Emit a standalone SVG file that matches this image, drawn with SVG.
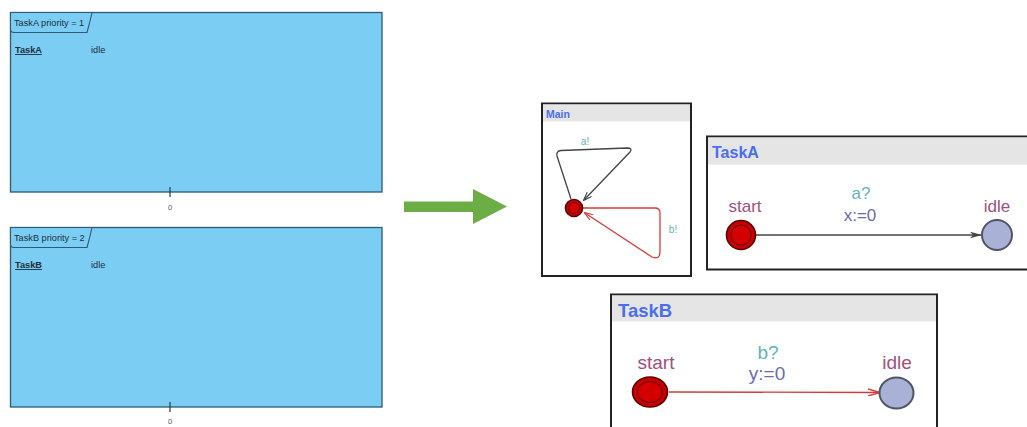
<svg xmlns="http://www.w3.org/2000/svg" width="1027" height="427" viewBox="0 0 1027 427">
  <style>
    .lane { fill: #7bcdf3; stroke: #2c5a78; stroke-width: 1.3; }
    .tab { fill: #7bcdf3; stroke: #2c5a78; stroke-width: 1.1; }
    .small { font-family: "Liberation Sans", Arial, sans-serif; font-size: 9.2px; fill: #1d2f3c; }
    .tick { stroke: #2c3a44; stroke-width: 1.2; }
    .tickval { font-family: "Liberation Sans", Arial, sans-serif; font-size: 7.5px; fill: #555555; }
    .frame { fill: #ffffff; stroke: #222; stroke-width: 2; }
    .head { fill: #e5e5e5; }
    .title { font-family: "Liberation Sans", Arial, sans-serif; font-weight: bold; fill: #4b6ef0; }
    .loc { font-family: "Liberation Sans", Arial, sans-serif; fill: #a0507c; }
    .sync { font-family: "Liberation Sans", Arial, sans-serif; fill: #5fb4b8; }
    .upd { font-family: "Liberation Sans", Arial, sans-serif; fill: #6a6aae; }
    .init-o { fill: #c80000; stroke: #5a0000; stroke-width: 1.6; }
    .init-i { fill: #d40000; stroke: #6a0000; stroke-width: 1.1; }
    .plain { fill: #a9b2d6; stroke: #4f5566; stroke-width: 2; }
    .edge-k { fill: none; stroke: #444; stroke-width: 1.3; }
    .edge-r { fill: none; stroke: #d83a3a; stroke-width: 1.3; }
  </style>
  <defs>
    <marker id="ak" viewBox="0 0 12 8" refX="11" refY="4" markerWidth="12" markerHeight="8" markerUnits="userSpaceOnUse" orient="auto">
      <path d="M0,0.8 L12,4 L0,7.2 L3,4 Z" fill="#444"/>
    </marker>
    <marker id="ar" viewBox="0 0 12 8" refX="11" refY="4" markerWidth="12" markerHeight="8" markerUnits="userSpaceOnUse" orient="auto">
      <path d="M0,0.5 L12,4 L0,7.5" fill="none" stroke="#d83a3a" stroke-width="1.4"/>
    </marker>
    <marker id="aks" viewBox="0 0 10 8" refX="9" refY="4" markerWidth="9" markerHeight="7" markerUnits="userSpaceOnUse" orient="auto">
      <path d="M0,0.5 L10,4 L0,7.5" fill="none" stroke="#444" stroke-width="1.3"/>
    </marker>
    <marker id="ars" viewBox="0 0 10 8" refX="9" refY="4" markerWidth="9" markerHeight="7" markerUnits="userSpaceOnUse" orient="auto">
      <path d="M0,0.5 L10,4 L0,7.5" fill="none" stroke="#d83a3a" stroke-width="1.3"/>
    </marker>
  </defs>

  <!-- Timing lanes -->
  <g id="laneA">
    <rect class="lane" x="10.5" y="12.5" width="371.5" height="179.5"/>
    <path class="tab" d="M10.5,12.5 L92,12.5 Q90,22 87,32.5 L14,32.5 Q10.5,32.5 10.5,29 Z"/>
    <text class="small" x="14" y="26">TaskA priority = 1</text>
    <text class="small" x="15" y="53" font-weight="bold" text-decoration="underline">TaskA</text>
    <text class="small" x="91" y="53">idle</text>
    <line class="tick" x1="170" y1="187" x2="170" y2="197"/>
    <text class="tickval" x="170" y="210" text-anchor="middle">0</text>
  </g>
  <g id="laneB">
    <rect class="lane" x="10.5" y="227.5" width="371.5" height="179.5"/>
    <path class="tab" d="M10.5,227.5 L92,227.5 Q90,237 87,247.5 L14,247.5 Q10.5,247.5 10.5,244 Z"/>
    <text class="small" x="14" y="241">TaskB priority = 2</text>
    <text class="small" x="15" y="268" font-weight="bold" text-decoration="underline">TaskB</text>
    <text class="small" x="91" y="268">idle</text>
    <line class="tick" x1="170" y1="402" x2="170" y2="412"/>
    <text class="tickval" x="170" y="424" text-anchor="middle">0</text>
  </g>

  <!-- Transformation arrow -->
  <g id="transform">
    <path d="M404,201.5 L473,201.5 L473,189 L507,206.5 L473,224 L473,212 L404,212 Z" fill="#6cae45"/>
  </g>

  <!-- Main automaton -->
  <g id="main">
    <rect class="frame" x="542" y="103.5" width="149" height="172.5"/>
    <rect class="head" x="543" y="104.5" width="147" height="17"/>
    <text class="title" x="546" y="118" font-size="10.5px">Main</text>
    <text class="sync" x="585" y="145" font-size="10px" text-anchor="middle">a!</text>
    <text class="sync" x="673" y="233" font-size="10px" text-anchor="middle">b!</text>
  </g>

  <!-- TaskA automaton -->
  <g id="taskA">
    <rect class="frame" x="707" y="136.5" width="330" height="133"/>
    <rect class="head" x="708" y="137.5" width="320" height="27"/>
    <text class="title" x="712" y="158" font-size="16px">TaskA</text>
    <text class="loc" x="745" y="212" font-size="17px" text-anchor="middle">start</text>
    <text class="loc" x="997" y="212" font-size="17px" text-anchor="middle">idle</text>
    <text class="sync" x="861" y="199" font-size="17px" text-anchor="middle">a?</text>
    <text class="upd" x="860" y="221" font-size="17px" text-anchor="middle">x:=0</text>
  </g>

  <!-- TaskB automaton -->
  <g id="taskB">
    <rect class="frame" x="611" y="294.5" width="326" height="140"/>
    <rect class="head" x="612" y="295.5" width="324" height="26"/>
    <text class="title" x="618" y="317" font-size="18.5px">TaskB</text>
    <text class="loc" x="656" y="369" font-size="19px" text-anchor="middle">start</text>
    <text class="loc" x="897" y="369" font-size="19px" text-anchor="middle">idle</text>
    <text class="sync" x="768" y="359" font-size="19px" text-anchor="middle">b?</text>
    <text class="upd" x="767" y="380" font-size="19px" text-anchor="middle">y:=0</text>
  </g>

  <!-- Edges -->
  <g id="connectors">
    <path class="edge-k" d="M571,199 L557,156 Q556,151 561,150.5 L627,148 Q633,148 630,152 L584,200" marker-end="url(#aks)"/>
    <path class="edge-r" d="M583,208 L655,208 Q660,208 660,213 L660,252 Q660,260 652,257 L585,213" marker-end="url(#ars)"/>
    <path class="edge-k" d="M755,235 L981,235" marker-end="url(#ak)"/>
    <path class="edge-r" d="M669,392 L879,392.5" marker-end="url(#ar)"/>
  </g>

  <!-- Locations -->
  <g id="mainInit">
    <circle class="init-o" cx="574" cy="208" r="8.5"/>
    <circle class="init-i" cx="574" cy="208" r="5.5"/>
  </g>
  <g id="taskAStart">
    <circle class="init-o" cx="741" cy="235" r="14.5"/>
    <circle class="init-i" cx="741" cy="235" r="10"/>
  </g>
  <g id="taskAIdle">
    <circle class="plain" cx="997" cy="235" r="15"/>
  </g>
  <g id="taskBStart">
    <ellipse class="init-o" cx="650" cy="392" rx="17.5" ry="15"/>
    <ellipse class="init-i" cx="650" cy="392" rx="12.5" ry="10.5"/>
  </g>
  <g id="taskBIdle">
    <ellipse class="plain" cx="896.5" cy="393" rx="17" ry="15.5"/>
  </g>
</svg>
